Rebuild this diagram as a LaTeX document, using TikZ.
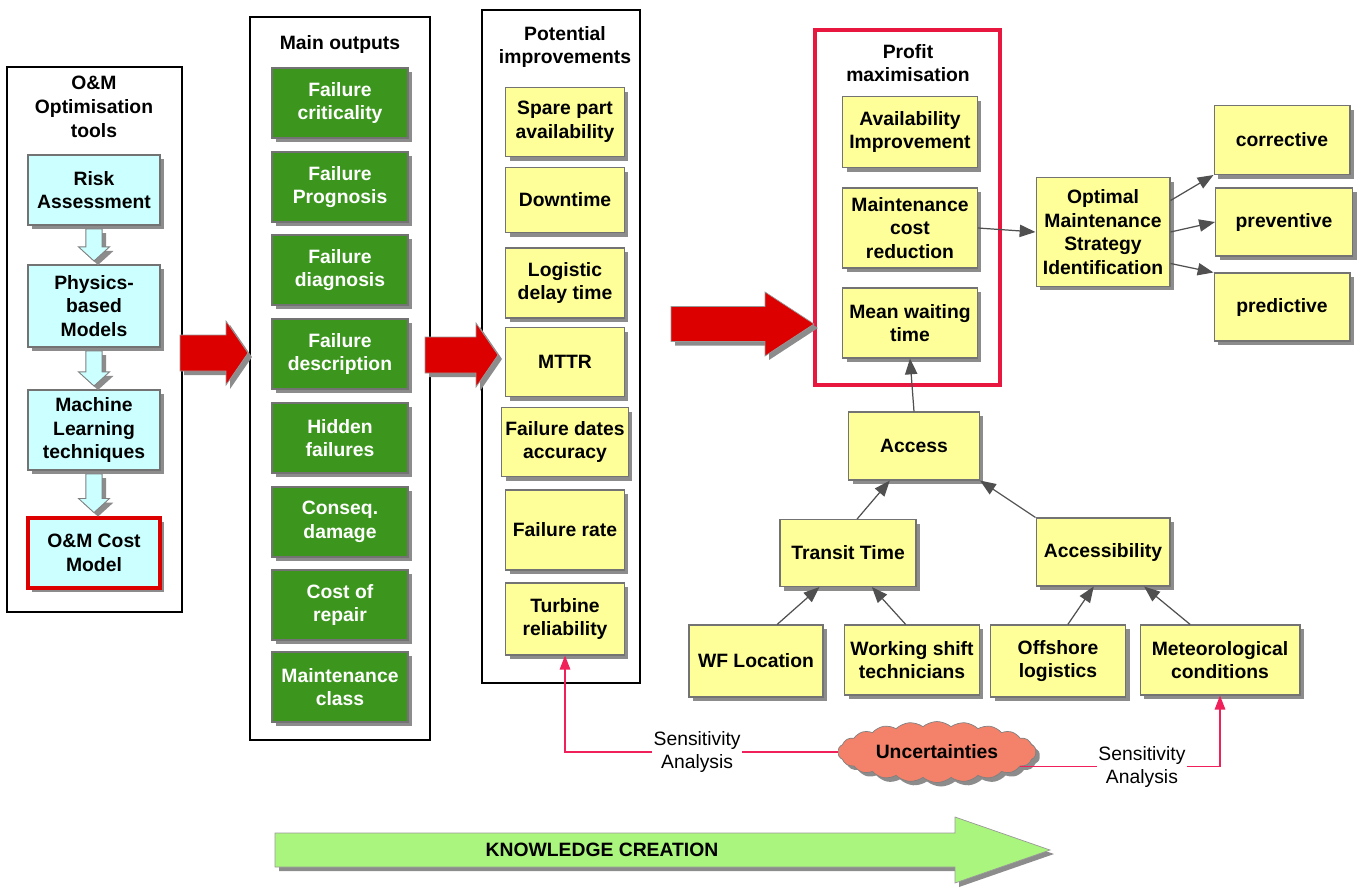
\documentclass[tikz,border=0pt]{standalone}
\usepackage{fontspec}
\setmainfont{Liberation Sans}
\usepackage{xcolor}
\usepackage{tikz}
\usetikzlibrary{shapes, shapes.symbols, positioning, arrows.meta, calc, shadows}

\definecolor{toolcyan}{HTML}{CCFFFF}
\definecolor{outgreen}{HTML}{3C961E}
\definecolor{noteyellow}{HTML}{FFFF99}
\definecolor{arrowred}{HTML}{DD0000}
\definecolor{profitred}{HTML}{E8173F}
\definecolor{cloudsalmon}{HTML}{F4826A}
\definecolor{knowgreen}{HTML}{AAF57D}
\definecolor{linkgray}{HTML}{505050}
\definecolor{senspink}{HTML}{F0205A}

\newcommand\hblock[7]{\path[#1] (#2,#4-#5) -- (#3-#7,#4-#5) -- (#3-#7,#4-#6) -- (#3,#4) -- (#3-#7,#4+#6) -- (#3-#7,#4+#5) -- (#2,#4+#5) -- cycle;}
\newcommand\flowdown[2]{\path[cyanarrow] let \p1=(#1.south), \p2=(#2.north) in
  (\x1-4.6pt,\y1-2pt) -- (\x1+4.6pt,\y1-2pt) -- (\x1+4.6pt,\y2+10pt) -- (\x1+8.8pt,\y2+10pt)
  -- (\x1,\y2+2pt) -- (\x1-8.8pt,\y2+10pt) -- (\x1-4.6pt,\y2+10pt) -- cycle;}

\begin{document}
\begin{tikzpicture}[x=0.02cm, y=-0.02cm,
  boxshadow/.style={drop shadow={shadow xshift=0.08cm, shadow yshift=-0.08cm, fill=black!45, opacity=1}},
  box/.style={draw=black!55, line width=0.6pt, align=center, font=\bfseries\fontsize{11}{13.5}\selectfont, inner sep=2pt, boxshadow},
  toolbox/.style={box, fill=toolcyan, minimum width=2.64cm},
  outbox/.style={box, fill=outgreen, text=white, minimum width=2.72cm, minimum height=1.4cm},
  note/.style={box, fill=noteyellow},
  frame/.style={draw=black, line width=0.7pt, fill=white},
  heading/.style={align=center, font=\bfseries\fontsize{11}{13.5}\selectfont},
  link/.style={draw=linkgray, line width=0.7pt, -{Triangle[length=9pt, width=7pt]}},
  sens/.style={draw=senspink, line width=0.8pt, -{Triangle[length=8pt, width=6pt]}},
  senslabel/.style={fill=white, align=center, font=\fontsize{11}{13}\selectfont, inner sep=1pt},
  bigred/.style={fill=arrowred, draw=black!40, line width=0.4pt, boxshadow},
  bigknow/.style={fill=knowgreen, draw=black!40, line width=0.4pt, boxshadow},
  cyanarrow/.style={fill=toolcyan, draw=black!50, line width=0.5pt, boxshadow}]
\useasboundingbox (0,0) rectangle (1362,887);

\node[frame, minimum width=3.5cm, minimum height=10.9cm] (tools) at (94.5,339.5) {};
\node[frame, minimum width=3.6cm, minimum height=14.46cm] (outputs) at (340,378.5) {};
\node[frame, minimum width=3.16cm, minimum height=13.46cm] (improv) at (561,346.5) {};
\node[draw=profitred, line width=1.8pt, minimum width=3.7cm, minimum height=7.1cm] (profit) at (907.5,207.5) {};

\node[heading] (toolstitle) at (94,107) {O\&M\\Optimisation\\tools};
\node[heading] (outtitle) at (340,44) {Main outputs};
\node[heading] (imptitle) at (565,47) {Potential\\improvements};
\node[heading] (proftitle) at (908,63) {Profit\\maximisation};

\hblock{bigred}{180}{248}{353}{18}{32}{22}
\hblock{bigred}{425}{498}{355}{18}{32}{22}
\hblock{bigred}{671}{814}{324}{17.5}{32}{49}
\hblock{bigknow}{275}{1050}{850}{17}{33}{95}
\node[font=\bfseries\fontsize{11}{13}\selectfont] (know) at (602,850) {KNOWLEDGE CREATION};

\node[toolbox, minimum height=1.4cm] (risk) at (94,190) {Risk\\Assessment};
\node[toolbox, minimum height=1.64cm] (physics) at (94,306) {Physics-\\based\\Models};
\node[toolbox, minimum height=1.6cm] (machine) at (94,430) {Machine\\Learning\\techniques};
\node[toolbox, minimum height=1.4cm, draw=arrowred, line width=2.2pt] (cost) at (94,553) {O\&M Cost\\Model};
\flowdown{risk}{physics}
\flowdown{physics}{machine}
\flowdown{machine}{cost}

\node[outbox] (crit) at (340,103) {Failure\\criticality};
\node[outbox] (progn) at (340,187) {Failure\\Prognosis};
\node[outbox] (diagn) at (340,270) {Failure\\diagnosis};
\node[outbox] (descr) at (340,354) {Failure\\description};
\node[outbox] (hidden) at (340,438) {Hidden\\failures};
\node[outbox] (conseq) at (340,522) {Conseq.\\damage};
\node[outbox] (repair) at (340,605) {Cost of\\repair};
\node[outbox] (mclass) at (340,687) {Maintenance\\class};

\node[note, minimum width=2.38cm, minimum height=1.38cm] (spare) at (565,122) {Spare part\\availability};
\node[note, minimum width=2.38cm, minimum height=1.3cm] (down) at (565,200) {Downtime};
\node[note, minimum width=2.38cm, minimum height=1.4cm] (delay) at (565,283) {Logistic\\delay time};
\node[note, minimum width=2.38cm, minimum height=1.38cm] (mttr) at (565,362) {MTTR};
\node[note, minimum width=2.38cm, minimum height=1.38cm] (dates) at (565,442) {Failure dates\\accuracy};
\node[note, minimum width=2.38cm, minimum height=1.6cm] (rate) at (565,530) {Failure rate};
\node[note, minimum width=2.38cm, minimum height=1.44cm] (turbine) at (565,619) {Turbine\\reliability};

\node[note, minimum width=2.7cm, minimum height=1.42cm] (avail) at (910,132) {Availability\\Improvement};
\node[note, minimum width=2.7cm, minimum height=1.6cm] (mcost) at (910,228) {Maintenance\\cost\\reduction};
\node[note, minimum width=2.7cm, minimum height=1.4cm] (mwait) at (910,323) {Mean waiting\\time};

\node[note, minimum width=2.68cm, minimum height=2.18cm] (optimal) at (1103,232) {Optimal\\Maintenance\\Strategy\\Identification};
\node[note, minimum width=2.72cm, minimum height=1.38cm] (corrective) at (1282,140) {corrective};
\node[note, minimum width=2.74cm, minimum height=1.36cm] (preventive) at (1284,222) {preventive};
\node[note, minimum width=2.72cm, minimum height=1.36cm] (predictive) at (1282,307) {predictive};

\node[note, minimum width=2.62cm, minimum height=1.36cm] (access) at (914,446) {Access};
\node[note, minimum width=2.72cm, minimum height=1.34cm] (transit) at (848,553) {Transit Time};
\node[note, minimum width=2.68cm, minimum height=1.36cm] (accessib) at (1103,552) {Accessibility};
\node[note, minimum width=2.68cm, minimum height=1.44cm] (wf) at (756,661) {WF Location};
\node[note, minimum width=2.7cm, minimum height=1.4cm] (shift) at (912,660) {Working shift\\technicians};
\node[note, minimum width=2.7cm, minimum height=1.44cm] (offshore) at (1058,661) {Offshore\\logistics};
\node[note, minimum width=3.2cm, minimum height=1.4cm] (meteo) at (1220,660) {Meteorological\\conditions};

\node[cloud, cloud puffs=22, cloud puff arc=80, cloud ignores aspect, inner sep=0pt, fill=cloudsalmon, draw=black!50, minimum width=3.96cm, minimum height=1.22cm, boxshadow, font=\bfseries\fontsize{11}{13}\selectfont] (unc) at (937,752) {Uncertainties};

\draw[link] (mcost.east) -- (optimal.west);
\draw[link] (optimal.25) -- (corrective.south west);
\draw[link] (optimal.east) -- (preventive.west);
\draw[link] (optimal.-25) -- (predictive.north west);
\draw[link] (access.north) -- (mwait.south);
\draw[link] (transit.75) -- (access.-125);
\draw[link] (accessib.north west) -- (access.south east);
\draw[link] (wf.60) -- (transit.-130);
\draw[link] (shift.100) -- (transit.-55);
\draw[link] (offshore.75) -- (accessib.-105);
\draw[link] (meteo.130) -- (accessib.-40);

\draw[sens] (unc.west) -| node[senslabel, pos=0.258] {Sensitivity\\Analysis} (turbine.south);
\draw[sens] (unc.-10) -| node[senslabel, pos=0.305] {Sensitivity\\Analysis} (meteo.south);
\end{tikzpicture}
\end{document}
